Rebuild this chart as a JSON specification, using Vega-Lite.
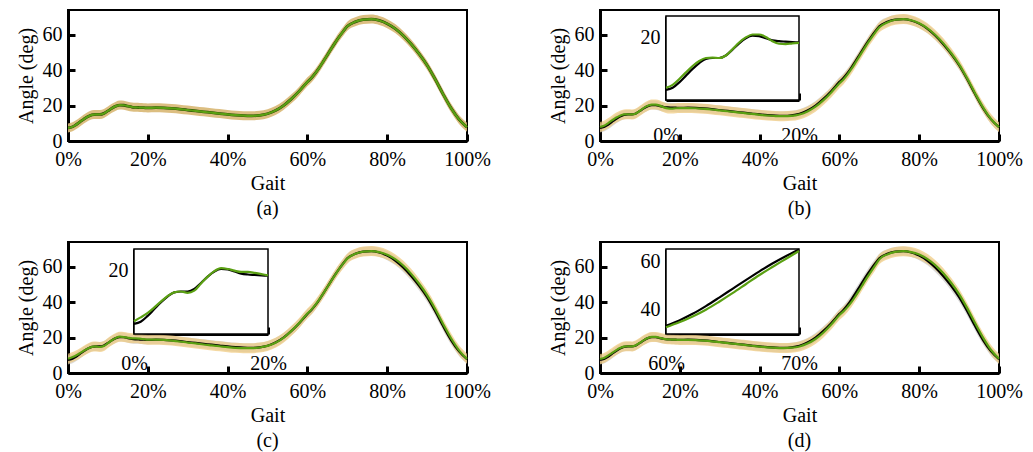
{
  "$schema": "https://vega.github.io/schema/vega-lite/v6.json",
  "background": "white",
  "padding": {"left": 15, "top": 9, "right": 5, "bottom": 5},
  "datasets": {
    "knee": [
      {"g": 0, "truth": 7.4, "pa": 7.4, "pb": 7.9, "pc": 8.0, "pd": 7.9},
      {"g": 1, "truth": 7.9, "pa": 7.9, "pb": 8.6, "pc": 8.9, "pd": 8.5},
      {"g": 2, "truth": 9.2, "pa": 9.2, "pb": 10.0, "pc": 9.9, "pd": 9.8},
      {"g": 3, "truth": 10.8, "pa": 10.8, "pb": 11.6, "pc": 11.2, "pd": 11.3},
      {"g": 4, "truth": 12.4, "pa": 12.4, "pb": 13.1, "pc": 12.6, "pd": 12.8},
      {"g": 5, "truth": 13.8, "pa": 13.8, "pb": 14.3, "pc": 13.9, "pd": 14.1},
      {"g": 6, "truth": 14.8, "pa": 14.8, "pb": 15.0, "pc": 14.8, "pd": 14.9},
      {"g": 7, "truth": 15.0, "pa": 15.0, "pb": 15.1, "pc": 15.0, "pd": 15.1},
      {"g": 8, "truth": 15.0, "pa": 15.0, "pb": 15.0, "pc": 14.7, "pd": 15.0},
      {"g": 9, "truth": 15.6, "pa": 15.6, "pb": 15.6, "pc": 15.2, "pd": 15.7},
      {"g": 10, "truth": 17.0, "pa": 17.0, "pb": 17.1, "pc": 16.9, "pd": 17.1},
      {"g": 11, "truth": 18.5, "pa": 18.5, "pb": 18.7, "pc": 18.5, "pd": 18.6},
      {"g": 12, "truth": 19.7, "pa": 19.7, "pb": 19.9, "pc": 19.8, "pd": 19.8},
      {"g": 13, "truth": 20.3, "pa": 20.3, "pb": 20.6, "pc": 20.5, "pd": 20.4},
      {"g": 14, "truth": 20.2, "pa": 20.2, "pb": 20.6, "pc": 20.3, "pd": 20.4},
      {"g": 15, "truth": 19.7, "pa": 19.7, "pb": 20.0, "pc": 19.9, "pd": 19.9},
      {"g": 16, "truth": 19.2, "pa": 19.2, "pb": 19.0, "pc": 19.6, "pd": 19.3},
      {"g": 17, "truth": 19.0, "pa": 19.0, "pb": 18.4, "pc": 19.6, "pd": 19.0},
      {"g": 18, "truth": 18.9, "pa": 18.9, "pb": 18.3, "pc": 19.4, "pd": 18.9},
      {"g": 19, "truth": 18.8, "pa": 18.8, "pb": 18.5, "pc": 19.1, "pd": 18.8},
      {"g": 20, "truth": 18.7, "pa": 18.7, "pb": 18.6, "pc": 18.8, "pd": 18.7},
      {"g": 22, "truth": 18.8, "pa": 18.8, "pb": 18.6, "pc": 18.8, "pd": 18.7},
      {"g": 24, "truth": 18.7, "pa": 18.7, "pb": 18.5, "pc": 18.7, "pd": 18.6},
      {"g": 26, "truth": 18.4, "pa": 18.4, "pb": 18.2, "pc": 18.3, "pd": 18.3},
      {"g": 28, "truth": 18.0, "pa": 18.0, "pb": 17.8, "pc": 17.8, "pd": 17.9},
      {"g": 30, "truth": 17.5, "pa": 17.5, "pb": 17.3, "pc": 17.2, "pd": 17.4},
      {"g": 32, "truth": 17.0, "pa": 17.0, "pb": 16.8, "pc": 16.7, "pd": 16.9},
      {"g": 34, "truth": 16.5, "pa": 16.5, "pb": 16.3, "pc": 16.1, "pd": 16.4},
      {"g": 36, "truth": 16.0, "pa": 16.0, "pb": 15.8, "pc": 15.6, "pd": 15.9},
      {"g": 38, "truth": 15.5, "pa": 15.5, "pb": 15.3, "pc": 15.1, "pd": 15.4},
      {"g": 40, "truth": 15.0, "pa": 15.0, "pb": 14.8, "pc": 14.6, "pd": 14.9},
      {"g": 42, "truth": 14.6, "pa": 14.6, "pb": 14.4, "pc": 14.2, "pd": 14.5},
      {"g": 44, "truth": 14.3, "pa": 14.3, "pb": 14.1, "pc": 14.0, "pd": 14.2},
      {"g": 46, "truth": 14.2, "pa": 14.2, "pb": 14.0, "pc": 14.0, "pd": 14.1},
      {"g": 48, "truth": 14.5, "pa": 14.5, "pb": 14.2, "pc": 14.4, "pd": 14.3},
      {"g": 50, "truth": 15.4, "pa": 15.4, "pb": 15.0, "pc": 15.3, "pd": 15.0},
      {"g": 52, "truth": 17.2, "pa": 17.2, "pb": 16.7, "pc": 17.1, "pd": 16.6},
      {"g": 54, "truth": 20.0, "pa": 20.0, "pb": 19.4, "pc": 19.9, "pd": 19.2},
      {"g": 56, "truth": 23.8, "pa": 23.8, "pb": 23.1, "pc": 23.8, "pd": 22.9},
      {"g": 58, "truth": 28.3, "pa": 28.3, "pb": 27.6, "pc": 28.4, "pd": 27.5},
      {"g": 60, "truth": 33.4, "pa": 33.4, "pb": 32.6, "pc": 33.6, "pd": 32.8},
      {"g": 61, "truth": 35.6, "pa": 35.6, "pb": 34.8, "pc": 35.8, "pd": 34.8},
      {"g": 62, "truth": 38.3, "pa": 38.3, "pb": 37.5, "pc": 38.5, "pd": 37.2},
      {"g": 63, "truth": 41.5, "pa": 41.5, "pb": 40.7, "pc": 41.6, "pd": 40.0},
      {"g": 64, "truth": 45.0, "pa": 45.0, "pb": 44.2, "pc": 45.0, "pd": 43.3},
      {"g": 65, "truth": 48.6, "pa": 48.6, "pb": 47.8, "pc": 48.6, "pd": 46.8},
      {"g": 66, "truth": 52.2, "pa": 52.2, "pb": 51.4, "pc": 52.1, "pd": 50.5},
      {"g": 67, "truth": 55.7, "pa": 55.7, "pb": 55.0, "pc": 55.6, "pd": 54.2},
      {"g": 68, "truth": 59.0, "pa": 59.0, "pb": 58.3, "pc": 58.9, "pd": 57.6},
      {"g": 69, "truth": 62.0, "pa": 62.0, "pb": 61.4, "pc": 61.9, "pd": 60.9},
      {"g": 70, "truth": 64.8, "pa": 64.8, "pb": 64.2, "pc": 64.6, "pd": 64.2},
      {"g": 72, "truth": 67.3, "pa": 67.3, "pb": 67.0, "pc": 67.3, "pd": 67.0},
      {"g": 74, "truth": 68.6, "pa": 68.6, "pb": 68.5, "pc": 68.6, "pd": 68.4},
      {"g": 76, "truth": 68.9, "pa": 68.9, "pb": 68.9, "pc": 68.9, "pd": 68.8},
      {"g": 78, "truth": 68.1, "pa": 68.1, "pb": 68.2, "pc": 68.3, "pd": 68.3},
      {"g": 80, "truth": 66.3, "pa": 66.3, "pb": 66.5, "pc": 66.8, "pd": 66.9},
      {"g": 82, "truth": 63.5, "pa": 63.5, "pb": 63.8, "pc": 64.3, "pd": 64.5},
      {"g": 84, "truth": 59.6, "pa": 59.6, "pb": 60.0, "pc": 60.7, "pd": 61.0},
      {"g": 86, "truth": 54.8, "pa": 54.8, "pb": 55.3, "pc": 56.0, "pd": 56.5},
      {"g": 88, "truth": 49.2, "pa": 49.2, "pb": 49.7, "pc": 50.4, "pd": 51.0},
      {"g": 90, "truth": 42.8, "pa": 42.8, "pb": 43.3, "pc": 44.0, "pd": 44.6},
      {"g": 92, "truth": 35.0, "pa": 35.0, "pb": 35.5, "pc": 36.3, "pd": 36.8},
      {"g": 94, "truth": 26.5, "pa": 26.5, "pb": 27.0, "pc": 27.7, "pd": 28.2},
      {"g": 96, "truth": 18.6, "pa": 18.6, "pb": 19.0, "pc": 19.6, "pd": 20.0},
      {"g": 98, "truth": 12.2, "pa": 12.2, "pb": 12.4, "pc": 12.8, "pd": 13.0},
      {"g": 100, "truth": 7.8, "pa": 7.8, "pb": 7.8, "pc": 8.0, "pd": 8.0}
    ]
  },
  "config": {
    "font": "Liberation Serif",
    "view": {"stroke": "#000000", "strokeWidth": 2},
    "axis": {
      "labelFont": "Liberation Serif", "labelFontSize": 20, "labelColor": "#000000",
      "titleFont": "Liberation Serif", "titleFontSize": 20, "titleFontWeight": "normal", "titleColor": "#000000",
      "domainColor": "#000000", "domainWidth": 3, "tickColor": "#000000", "tickWidth": 3, "tickSize": -7,
      "grid": false, "labelFlush": false, "labelOverlap": false, "labelPadding": 13, "zindex": 1
    },
    "axisX": {"titlePadding": 4, "labelPadding": 15},
    "axisY": {"titlePadding": 6},
    "title": {"font": "Liberation Serif", "fontSize": 20, "fontWeight": "normal", "color": "#000000", "orient": "bottom", "anchor": "middle", "offset": 6}
  },
  "columns": 2,
  "bounds": "flush",
  "spacing": {"row": 101, "column": 133},
  "concat": [
    {
      "title": {"text": "(a)"},
      "width": 399, "height": 131,
      "data": {"name": "knee"},
      "layer": [
        {"mark": {"type": "area", "color": "#d8b773", "opacity": 0.9, "yOffset": -4.5, "y2Offset": 4.5, "interpolate": "monotone"},
         "encoding": {
           "x": {"field": "g", "type": "quantitative", "scale": {"domain": [0, 100], "nice": false, "zero": false},
                 "axis": {"values": [0, 20, 40, 60, 80, 100], "labelExpr": "datum.value + '%'", "title": "Gait", "orient": "bottom"}},
           "y": {"field": "pa", "type": "quantitative", "scale": {"domain": [0, 74], "nice": false, "zero": false},
                 "axis": {"values": [0, 20, 40, 60], "title": "Angle (deg)", "orient": "left"}},
           "y2": {"field": "pa"}}},
        {"mark": {"type": "line", "color": "#1f3a00", "strokeWidth": 2.8, "interpolate": "monotone"},
         "encoding": {"x": {"field": "g", "type": "quantitative"}, "y": {"field": "truth", "type": "quantitative"}}},
        {"mark": {"type": "line", "color": "#5aa012", "strokeWidth": 2.2, "interpolate": "monotone"},
         "encoding": {"x": {"field": "g", "type": "quantitative"}, "y": {"field": "pa", "type": "quantitative"}}}
      ]
    },
    {
      "title": {"text": "(b)"},
      "width": 399, "height": 131,
      "layer": [
        {
          "data": {"name": "knee"},
          "layer": [
            {"mark": {"type": "area", "color": "#c2c2c2", "opacity": 0.6, "yOffset": -4.5, "y2Offset": 4.5, "interpolate": "monotone"},
             "encoding": {
               "x": {"field": "g", "type": "quantitative", "scale": {"domain": [0, 100], "nice": false, "zero": false},
                     "axis": {"values": [0, 20, 40, 60, 80, 100], "labelExpr": "datum.value + '%'", "title": "Gait", "orient": "bottom"}},
               "y": {"field": "truth", "type": "quantitative", "scale": {"domain": [0, 74], "nice": false, "zero": false},
                     "axis": {"values": [0, 20, 40, 60], "title": "Angle (deg)", "orient": "left"}},
               "y2": {"field": "truth"}}},
            {"mark": {"type": "area", "color": "#efc97c", "opacity": 0.7, "yOffset": -5, "y2Offset": 5, "interpolate": "monotone"},
             "encoding": {"x": {"field": "g", "type": "quantitative"}, "y": {"field": "pb", "type": "quantitative"}, "y2": {"field": "pb"}}},
            {"mark": {"type": "line", "color": "#000000", "strokeWidth": 2.2, "interpolate": "monotone"},
             "encoding": {"x": {"field": "g", "type": "quantitative"}, "y": {"field": "truth", "type": "quantitative"}}},
            {"mark": {"type": "line", "color": "#5aa012", "strokeWidth": 2.2, "interpolate": "monotone"},
             "encoding": {"x": {"field": "g", "type": "quantitative"}, "y": {"field": "pb", "type": "quantitative"}}}
          ]
        },
        {
          "layer": [
            {"data": {"values": [{"x0": 0, "x1": 20, "y0": 5, "y1": 25}]},
             "mark": {"type": "rect", "fill": "#ffffff", "stroke": "#000000", "strokeWidth": 1.5},
             "encoding": {
               "x": {"field": "x0", "type": "quantitative", "scale": {"domain": [0, 20], "range": [66, 199], "nice": false, "zero": false},
                     "axis": {"orient": "bottom", "offset": -41, "values": [0, 20], "labelExpr": "datum.value + '%'", "title": null, "labelPadding": 32}},
               "x2": {"field": "x1"},
               "y": {"field": "y0", "type": "quantitative", "scale": {"domain": [5, 25], "range": [90, 6], "nice": false, "zero": false},
                     "axis": {"orient": "left", "offset": -66, "values": [20], "title": null}},
               "y2": {"field": "y1"}}},
            {"data": {"name": "knee"}, "transform": [{"filter": "datum.g <= 20"}],
             "mark": {"type": "line", "color": "#000000", "strokeWidth": 2.2, "interpolate": "monotone"},
             "encoding": {"x": {"field": "g", "type": "quantitative"}, "y": {"field": "truth", "type": "quantitative"}}},
            {"data": {"name": "knee"}, "transform": [{"filter": "datum.g <= 20"}],
             "mark": {"type": "line", "color": "#5aa012", "strokeWidth": 2.2, "interpolate": "monotone"},
             "encoding": {"x": {"field": "g", "type": "quantitative"}, "y": {"field": "pb", "type": "quantitative"}}}
          ]
        }
      ],
      "resolve": {"scale": {"x": "independent", "y": "independent"}}
    },
    {
      "title": {"text": "(c)"},
      "width": 399, "height": 131,
      "layer": [
        {
          "data": {"name": "knee"},
          "layer": [
            {"mark": {"type": "area", "color": "#c2c2c2", "opacity": 0.6, "yOffset": -4.5, "y2Offset": 4.5, "interpolate": "monotone"},
             "encoding": {
               "x": {"field": "g", "type": "quantitative", "scale": {"domain": [0, 100], "nice": false, "zero": false},
                     "axis": {"values": [0, 20, 40, 60, 80, 100], "labelExpr": "datum.value + '%'", "title": "Gait", "orient": "bottom"}},
               "y": {"field": "truth", "type": "quantitative", "scale": {"domain": [0, 74], "nice": false, "zero": false},
                     "axis": {"values": [0, 20, 40, 60], "title": "Angle (deg)", "orient": "left"}},
               "y2": {"field": "truth"}}},
            {"mark": {"type": "area", "color": "#efc97c", "opacity": 0.7, "yOffset": -5, "y2Offset": 5, "interpolate": "monotone"},
             "encoding": {"x": {"field": "g", "type": "quantitative"}, "y": {"field": "pc", "type": "quantitative"}, "y2": {"field": "pc"}}},
            {"mark": {"type": "line", "color": "#000000", "strokeWidth": 2.2, "interpolate": "monotone"},
             "encoding": {"x": {"field": "g", "type": "quantitative"}, "y": {"field": "truth", "type": "quantitative"}}},
            {"mark": {"type": "line", "color": "#5aa012", "strokeWidth": 2.2, "interpolate": "monotone"},
             "encoding": {"x": {"field": "g", "type": "quantitative"}, "y": {"field": "pc", "type": "quantitative"}}}
          ]
        },
        {
          "layer": [
            {"data": {"values": [{"x0": 0, "x1": 20, "y0": 5, "y1": 25}]},
             "mark": {"type": "rect", "fill": "#ffffff", "stroke": "#000000", "strokeWidth": 1.5},
             "encoding": {
               "x": {"field": "x0", "type": "quantitative", "scale": {"domain": [0, 20], "range": [66, 200], "nice": false, "zero": false},
                     "axis": {"orient": "bottom", "offset": -39, "values": [0, 20], "labelExpr": "datum.value + '%'", "title": null, "labelPadding": 26}},
               "x2": {"field": "x1"},
               "y": {"field": "y0", "type": "quantitative", "scale": {"domain": [5, 25], "range": [92, 7], "nice": false, "zero": false},
                     "axis": {"orient": "left", "offset": -66, "values": [20], "title": null}},
               "y2": {"field": "y1"}}},
            {"data": {"name": "knee"}, "transform": [{"filter": "datum.g <= 20"}],
             "mark": {"type": "line", "color": "#000000", "strokeWidth": 2.2, "interpolate": "monotone"},
             "encoding": {"x": {"field": "g", "type": "quantitative"}, "y": {"field": "truth", "type": "quantitative"}}},
            {"data": {"name": "knee"}, "transform": [{"filter": "datum.g <= 20"}],
             "mark": {"type": "line", "color": "#5aa012", "strokeWidth": 2.2, "interpolate": "monotone"},
             "encoding": {"x": {"field": "g", "type": "quantitative"}, "y": {"field": "pc", "type": "quantitative"}}}
          ]
        }
      ],
      "resolve": {"scale": {"x": "independent", "y": "independent"}}
    },
    {
      "title": {"text": "(d)"},
      "width": 399, "height": 131,
      "layer": [
        {
          "data": {"name": "knee"},
          "layer": [
            {"mark": {"type": "area", "color": "#c2c2c2", "opacity": 0.6, "yOffset": -4.5, "y2Offset": 4.5, "interpolate": "monotone"},
             "encoding": {
               "x": {"field": "g", "type": "quantitative", "scale": {"domain": [0, 100], "nice": false, "zero": false},
                     "axis": {"values": [0, 20, 40, 60, 80, 100], "labelExpr": "datum.value + '%'", "title": "Gait", "orient": "bottom"}},
               "y": {"field": "truth", "type": "quantitative", "scale": {"domain": [0, 74], "nice": false, "zero": false},
                     "axis": {"values": [0, 20, 40, 60], "title": "Angle (deg)", "orient": "left"}},
               "y2": {"field": "truth"}}},
            {"mark": {"type": "area", "color": "#efc97c", "opacity": 0.7, "yOffset": -5, "y2Offset": 5, "interpolate": "monotone"},
             "encoding": {"x": {"field": "g", "type": "quantitative"}, "y": {"field": "pd", "type": "quantitative"}, "y2": {"field": "pd"}}},
            {"mark": {"type": "line", "color": "#000000", "strokeWidth": 2.2, "interpolate": "monotone"},
             "encoding": {"x": {"field": "g", "type": "quantitative"}, "y": {"field": "truth", "type": "quantitative"}}},
            {"mark": {"type": "line", "color": "#5aa012", "strokeWidth": 2.2, "interpolate": "monotone"},
             "encoding": {"x": {"field": "g", "type": "quantitative"}, "y": {"field": "pd", "type": "quantitative"}}}
          ]
        },
        {
          "layer": [
            {"data": {"values": [{"x0": 60, "x1": 70, "y0": 30, "y1": 65}]},
             "mark": {"type": "rect", "fill": "#ffffff", "stroke": "#000000", "strokeWidth": 1.5},
             "encoding": {
               "x": {"field": "x0", "type": "quantitative", "scale": {"domain": [60, 70], "range": [66, 199], "nice": false, "zero": false},
                     "axis": {"orient": "bottom", "offset": -39, "values": [60, 70], "labelExpr": "datum.value + '%'", "title": null, "labelPadding": 26}},
               "x2": {"field": "x1"},
               "y": {"field": "y0", "type": "quantitative", "scale": {"domain": [30, 65], "range": [92, 7], "nice": false, "zero": false},
                     "axis": {"orient": "left", "offset": -66, "values": [40, 60], "title": null}},
               "y2": {"field": "y1"}}},
            {"data": {"name": "knee"}, "transform": [{"filter": "datum.g >= 60 && datum.g <= 70"}],
             "mark": {"type": "line", "color": "#000000", "strokeWidth": 2.2, "interpolate": "monotone"},
             "encoding": {"x": {"field": "g", "type": "quantitative"}, "y": {"field": "truth", "type": "quantitative"}}},
            {"data": {"name": "knee"}, "transform": [{"filter": "datum.g >= 60 && datum.g <= 70"}],
             "mark": {"type": "line", "color": "#5aa012", "strokeWidth": 2.2, "interpolate": "monotone"},
             "encoding": {"x": {"field": "g", "type": "quantitative"}, "y": {"field": "pd", "type": "quantitative"}}}
          ]
        }
      ],
      "resolve": {"scale": {"x": "independent", "y": "independent"}}
    }
  ]
}
